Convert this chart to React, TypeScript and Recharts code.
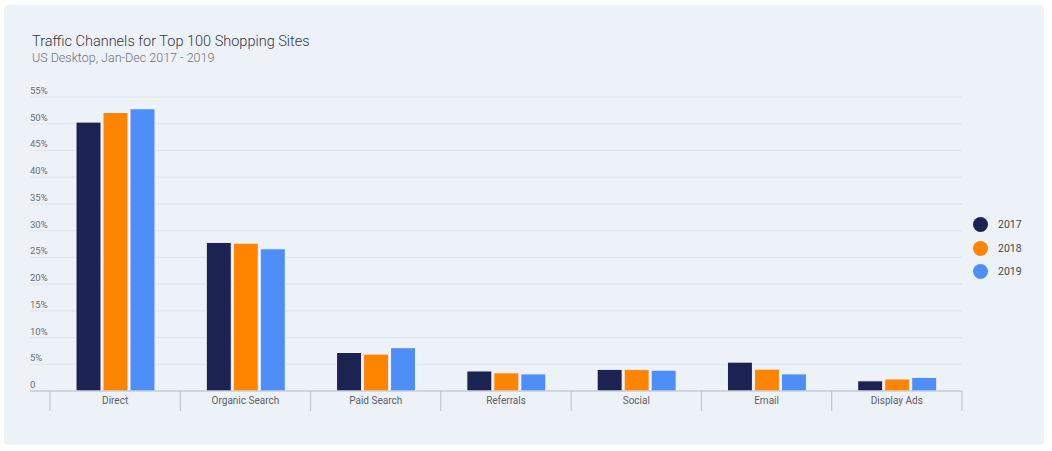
import { Bar, BarChart, CartesianGrid, XAxis, YAxis } from "recharts";

const channels = [
  "Direct",
  "Organic Search",
  "Paid Search",
  "Referrals",
  "Social",
  "Email",
  "Display Ads",
];
const share2017 = [50.3, 27.8, 7.2, 3.75, 4.05, 5.4, 1.9];
const share2018 = [52.1, 27.65, 6.9, 3.4, 4.05, 4.1, 2.25];
const share2019 = [52.8, 26.6, 8.1, 3.2, 3.9, 3.2, 2.55];
const yTicks = [0, 5, 10, 15, 20, 25, 30, 35, 40, 45, 50, 55];

const seriesList = [
  { key: "y2017", label: "2017", color: "#1c2353" },
  { key: "y2018", label: "2018", color: "#ff8400" },
  { key: "y2019", label: "2019", color: "#4d8ef8" },
];

const data = channels.map((name, i) => ({
  name,
  y2017: share2017[i],
  y2018: share2018[i],
  y2019: share2019[i],
}));

const FONT = "Roboto, 'Noto Sans', sans-serif";
const BAND = 912 / channels.length;

const XTick = (props: any) => {
  const { x, y, payload, index } = props;
  const y0 = y - 8;
  return (
    <g>
      <line x1={x - BAND / 2} x2={x - BAND / 2} y1={y0} y2={y0 + 20} stroke="#b9bec8" />
      {index === channels.length - 1 && (
        <line x1={x + BAND / 2} x2={x + BAND / 2} y1={y0} y2={y0 + 20} stroke="#b9bec8" />
      )}
      <text x={x} y={y0 + 13} textAnchor="middle" fontSize={10} fill="#5c5f66" fontFamily={FONT}>
        {payload.value}
      </text>
    </g>
  );
};

const YTick = (props: any) => {
  const { y, payload } = props;
  return (
    <text x={30} y={y - 3} fontSize={9.5} fill="#6a6d74" fontFamily={FONT}>
      {payload.value === 0 ? "0" : `${payload.value}%`}
    </text>
  );
};

export default function App() {
  return (
    <div style={{ position: "absolute", left: 0, top: 0, width: 1052, height: 451, background: "#fff" }}>
      <div
        style={{
          position: "absolute",
          left: 4,
          top: 5,
          width: 1040,
          height: 440,
          background: "#edf1f8",
          borderRadius: 4,
        }}
      />
      <div
        style={{
          position: "absolute",
          left: 32,
          top: 33,
          fontFamily: FONT,
          fontSize: 14.5,
          fontWeight: 300,
          color: "#35373d",
          whiteSpace: "nowrap",
        }}
      >
        Traffic Channels for Top 100 Shopping Sites
      </div>
      <div
        style={{
          position: "absolute",
          left: 32,
          top: 50,
          fontFamily: FONT,
          fontSize: 12.5,
          fontWeight: 300,
          color: "#6f727a",
          whiteSpace: "nowrap",
        }}
      >
        US Desktop, Jan-Dec 2017 - 2019
      </div>
      <div style={{ position: "absolute", left: 0, top: 0 }}>
        <BarChart
          width={1052}
          height={451}
          data={data}
          margin={{ top: 97, right: 90, left: 10, bottom: 0 }}
          barSize={25}
          barGap={2}
        >
          <CartesianGrid vertical={false} stroke="#e0e4ec" />
          <XAxis
            dataKey="name"
            padding={{ left: 20, right: 0 }}
            tickLine={false}
            axisLine={{ stroke: "#b9bec8" }}
            tick={<XTick />}
            interval={0}
            height={60}
          />
          <YAxis
            width={20}
            domain={[0, 55]}
            ticks={yTicks}
            interval={0}
            axisLine={false}
            tickLine={false}
            tick={<YTick />}
          />
          {seriesList.map((s) => (
            <Bar
              key={s.key}
              dataKey={s.key}
              name={s.label}
              fill={s.color}
              stroke="#f4f6fa"
              strokeWidth={1}
              isAnimationActive={false}
            />
          ))}
        </BarChart>
      </div>
      <div style={{ position: "absolute", left: 973, top: 213, fontFamily: FONT }}>
        {seriesList.map((s) => (
          <div
            key={s.key}
            style={{ display: "flex", alignItems: "center", height: 23.5, fontSize: 10.5, color: "#454850" }}
          >
            <span
              style={{ width: 15, height: 15, borderRadius: "50%", background: s.color, marginRight: 10 }}
            />
            {s.label}
          </div>
        ))}
      </div>
    </div>
  );
}
